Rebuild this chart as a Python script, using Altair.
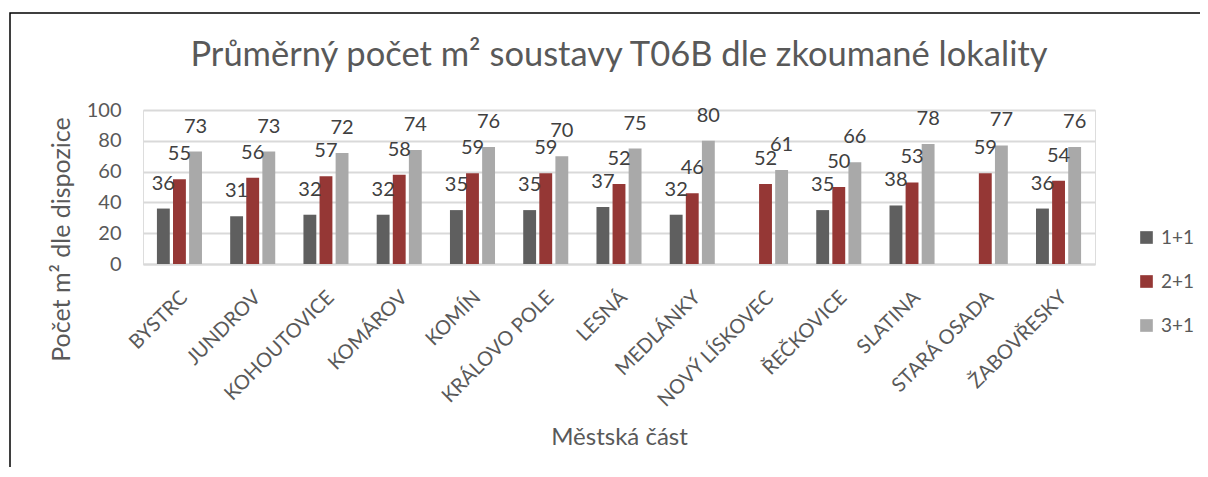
import altair as alt
import pandas as pd

categories = ["BYSTRC", "JUNDROV", "KOHOUTOVICE", "KOMÁROV", "KOMÍN", "KRÁLOVO POLE",
              "LESNÁ", "MEDLÁNKY", "NOVÝ LÍSKOVEC", "ŘEČKOVICE", "SLATINA",
              "STARÁ OSADA", "ŽABOVŘESKY"]
series = ["1+1", "2+1", "3+1"]
vals_11 = [36, 31, 32, 32, 35, 35, 37, 32, None, 35, 38, None, 36]
vals_21 = [55, 56, 57, 58, 59, 59, 52, 46, 52, 50, 53, 59, 54]
vals_31 = [73, 73, 72, 74, 76, 70, 75, 80, 61, 66, 78, 77, 76]
colors = ["#5f5f5f", "#953735", "#a9a9a9"]
y_ticks = [0, 20, 40, 60, 80, 100]

rows = []
for s, vals in zip(series, [vals_11, vals_21, vals_31]):
    for c, v in zip(categories, vals):
        if v is not None:
            rows.append({"cat": c, "serie": s, "val": v})
df = pd.DataFrame(rows)

TXT = "#595959"
FONT = "Lato"

x_enc = alt.X("cat:N", sort=categories, title="Městská část",
              scale=alt.Scale(paddingInner=0.385, paddingOuter=0.19),
              axis=alt.Axis(labelAngle=315, labelFontSize=20, labelColor=TXT,
                            labelFont=FONT, labelAlign="right", labelBaseline="middle",
                            labelPadding=30, labelOffset=5, labelOverlap=False,
                            labelLimit=300, ticks=False, domain=True,
                            domainColor="#d9d9d9", domainWidth=2,
                            titleFontSize=24, titleFontWeight="normal", titleColor=TXT,
                            titleFont=FONT, titleX=476, titleY=173,
                            titleAlign="center", titleBaseline="middle"))
xo_enc = alt.XOffset("serie:N", sort=series,
                     scale=alt.Scale(domain=series, paddingInner=0.2, paddingOuter=0))
y_enc = alt.Y("val:Q", title="Počet m² dle dispozice",
              scale=alt.Scale(domain=[0, 100]),
              axis=alt.Axis(values=y_ticks, labelOverlap=False,
                            labelFontSize=20, labelColor=TXT, labelFont=FONT,
                            labelPadding=22, ticks=False, domain=False,
                            gridColor="#d9d9d9", gridWidth=2,
                            titleFontSize=25, titleFontWeight="normal", titleColor=TXT,
                            titleFont=FONT, titleAngle=270, titleX=-82, titleY=129,
                            titleAlign="center", titleBaseline="middle"))

color_enc = alt.Color("serie:N", sort=series,
                      scale=alt.Scale(domain=series, range=colors),
                      legend=alt.Legend(title=None, orient="none", legendX=994, legendY=118,
                                        symbolType="square", symbolSize=160,
                                        symbolStrokeWidth=0, labelFontSize=19,
                                        labelColor=TXT, labelFont=FONT, rowPadding=24,
                                        labelOffset=5))

base = alt.Chart(df).encode(x=x_enc, xOffset=xo_enc, y=y_enc)
bars = base.mark_bar().encode(color=color_enc)
labels = base.mark_text(baseline="middle", dy=-25, fontSize=20, color="#404040",
                        font=FONT).encode(text="val:Q")

frame = alt.Chart(alt.Data(values=[{}])).mark_rect(fill=None, stroke="black",
                                                   strokeWidth=1.5).encode(
    x=alt.value(-133), x2=alt.value(1200), y=alt.value(-97), y2=alt.value(420))

chart = alt.layer(frame, bars, labels).properties(
    width=952, height=154,
    padding={"left": 135, "top": 102, "right": 105, "bottom": 203},
    autosize=alt.AutoSizeParams(type="none"),
    title=alt.Title("Průměrný počet m² soustavy T06B dle zkoumané lokality",
                    fontSize=34.5, fontWeight="normal", color=TXT, font=FONT,
                    anchor="middle", baseline="alphabetic", offset=-88, frame="group"),
).configure_view(strokeWidth=0).configure(font=FONT)

chart.save("out.html", embed_options={"renderer": "svg", "actions": False})
